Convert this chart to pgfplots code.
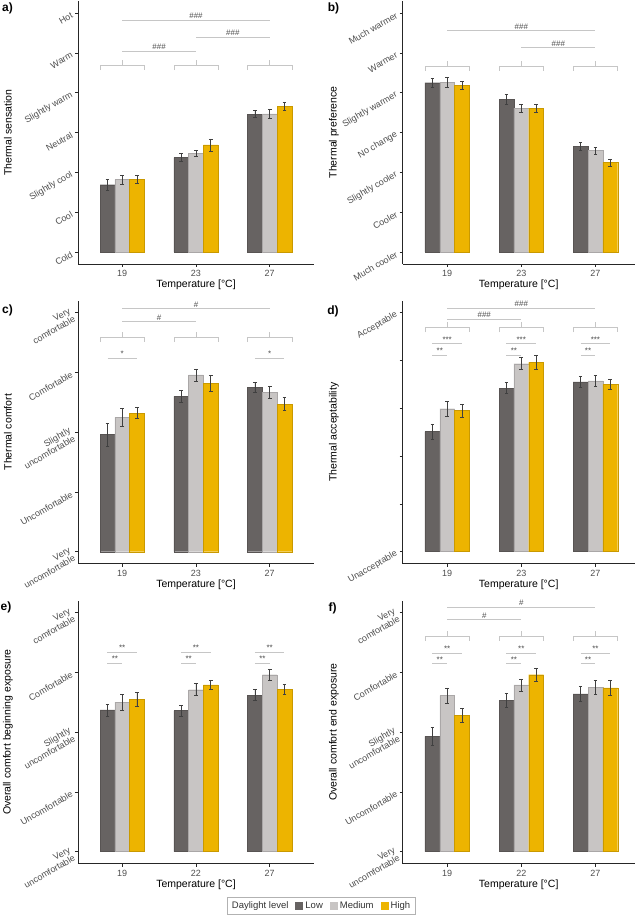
\documentclass[border=0pt]{standalone}
\usepackage{fontspec}
\setmainfont{Liberation Sans}
\usepackage{pgfplots}
\pgfplotsset{compat=1.18}
\definecolor{cLow}{HTML}{676362}
\definecolor{cMed}{HTML}{C8C5C4}
\definecolor{cHigh}{HTML}{EDB400}
\definecolor{tgray}{HTML}{4D4D4D}
\definecolor{agray}{HTML}{C6C6C6}
\tikzset{annot/.style={draw=agray, line width=0.5pt},
  sigtxt/.style={font=\fontsize{8}{8}\selectfont, text=black!70, inner sep=1pt}}
\pgfplotsset{
 panel/.style={
  scale only axis, width=236pt, height=263pt,
  xmin=-0.6, xmax=2.6,
  axis x line*=bottom, axis y line*=left,
  axis line style={black!85, line width=0.6pt},
  tick align=outside, major tick length=3pt,
  tick style={black!85, line width=0.5pt},
  xtick={0,1,2}, xticklabels={19,23,27},
  ybar=0pt, bar width=0.2,
  ticklabel style={font=\fontsize{9}{10}\selectfont, text=tgray},
  yticklabel style={rotate=30, anchor=east, align=right, font=\fontsize{9}{9.5}\selectfont},
  xlabel={Temperature [°C]},
  every axis x label/.style={at={(axis description cs:0.5,0)}, yshift=-21pt, anchor=center, font=\fontsize{10.5}{12}\selectfont},
  every axis y label/.style={at={(axis description cs:-0.297,0.5)}, rotate=90, anchor=center, font=\fontsize{10.5}{12}\selectfont},
  clip=false,
  /pgf/number format/assume math mode=true,
 },
 narrow/.style={width=232pt, xmax=2.53},
 comfy/.style={ymin=-0.2, ymax=4.2, ytick={0,...,4},
   yticklabels={{Very\\uncomfortable},Uncomfortable,{Slightly\\uncomfortable},Comfortable,{Very\\comfortable}}},
 low/.style={fill=cLow, draw=cLow!85!black, line width=0.3pt, bar shift=-0.2},
 med/.style={fill=cMed, draw=cMed!85!black, line width=0.3pt, bar shift=0},
 high/.style={fill=cHigh, draw=cHigh!85!black, line width=0.3pt, bar shift=0.2},
 eb/.style={error bars/.cd, y dir=both, y explicit,
   error bar style={black!75, line width=0.5pt},
   error mark options={black!75, line width=0.5pt, mark size=1.8pt, rotate=90}},
}
\newcommand\brk[4]{%
 \draw[annot] ([yshift=-5pt]axis cs:#1,#4) -- (axis cs:#1,#4) -- (axis cs:#3,#4) -- ([yshift=-5pt]axis cs:#3,#4);
 \draw[annot] (axis cs:#2,#4) -- ([yshift=5pt]axis cs:#2,#4);}
\newcommand\sig[4]{\draw[annot] (axis cs:#1,#3) -- (axis cs:#2,#3) node[midway, above, sigtxt] {#4};}
\begin{document}
\begin{tikzpicture}[x=1pt,y=1pt]
\useasboundingbox (0,0) rectangle (641,918);
% ---------- a ----------
\begin{axis}[panel, at={(78pt,654pt)}, ymin=-0.3, ymax=6.3, ytick={0,...,6},
  yticklabels={Cold,Cool,Slightly cool,Neutral,Slightly warm,Warm,Hot},
  ylabel={Thermal sensation}]
\addplot[low, eb] coordinates {(0,1.69) +- (0,0.13) (1,2.37) +- (0,0.10) (2,3.46) +- (0,0.09)};
\addplot[med, eb] coordinates {(0,1.82) +- (0,0.11) (1,2.48) +- (0,0.08) (2,3.47) +- (0,0.11)};
\addplot[high, eb] coordinates {(0,1.82) +- (0,0.10) (1,2.69) +- (0,0.15) (2,3.66) +- (0,0.10)};
\brk{-0.3}{0}{0.3}{4.69}\brk{0.7}{1}{1.3}{4.69}\brk{1.7}{2}{2.3}{4.69}
\sig{0}{1}{5.05}{\#\#\#}\sig{1}{2}{5.40}{\#\#\#}\sig{0}{2}{5.82}{\#\#\#}
\end{axis}
% ---------- b ----------
\begin{axis}[panel, narrow, at={(402.7pt,654pt)}, ymin=-0.3, ymax=6.3, ytick={0,...,6},
  yticklabels={Much cooler,Cooler,Slightly cooler,No change,Slightly warmer,Warmer,Much warmer},
  ylabel={Thermal preference}]
\addplot[low, eb] coordinates {(0,4.25) +- (0,0.12) (1,3.83) +- (0,0.12) (2,2.65) +- (0,0.10)};
\addplot[med, eb] coordinates {(0,4.26) +- (0,0.12) (1,3.61) +- (0,0.10) (2,2.55) +- (0,0.085)};
\addplot[high, eb] coordinates {(0,4.18) +- (0,0.10) (1,3.61) +- (0,0.10) (2,2.25) +- (0,0.09)};
\brk{-0.3}{0}{0.3}{4.67}\brk{0.7}{1}{1.3}{4.67}\brk{1.7}{2}{2.3}{4.67}
\sig{1}{2}{5.13}{\#\#\#}\sig{0}{2}{5.56}{\#\#\#}
\end{axis}
% ---------- c ----------
\begin{axis}[panel, comfy, at={(78pt,354.3pt)}, ylabel={Thermal comfort}]
\addplot[low, eb] coordinates {(0,1.96) +- (0,0.19) (1,2.60) +- (0,0.105) (2,2.75) +- (0,0.085)};
\addplot[med, eb] coordinates {(0,2.25) +- (0,0.15) (1,2.96) +- (0,0.10) (2,2.67) +- (0,0.105)};
\addplot[high, eb] coordinates {(0,2.32) +- (0,0.095) (1,2.82) +- (0,0.13) (2,2.47) +- (0,0.11)};
\brk{-0.3}{0}{0.3}{3.59}\brk{0.7}{1}{1.3}{3.59}\brk{1.7}{2}{2.3}{3.59}
\sig{0}{1}{3.85}{\#}\sig{0}{2}{4.07}{\#}
\sig{-0.2}{0.2}{3.24}{*}\sig{1.8}{2.2}{3.24}{*}
\end{axis}
% ---------- d ----------
\begin{axis}[panel, narrow, at={(402.7pt,354.4pt)}, ymin=-0.25, ymax=5.25, ytick={0,...,5},
  yticklabels={Unacceptable,,,,,Acceptable}, ylabel={Thermal acceptability}]
\addplot[low, eb] coordinates {(0,2.51) +- (0,0.16) (1,3.42) +- (0,0.115) (2,3.55) +- (0,0.12)};
\addplot[med, eb] coordinates {(0,2.99) +- (0,0.15) (1,3.93) +- (0,0.125) (2,3.57) +- (0,0.12)};
\addplot[high, eb] coordinates {(0,2.95) +- (0,0.14) (1,3.96) +- (0,0.14) (2,3.50) +- (0,0.11)};
\brk{-0.3}{0}{0.3}{4.69}\brk{0.7}{1}{1.3}{4.69}\brk{1.7}{2}{2.3}{4.69}
\sig{0}{1}{4.87}{\#\#\#}\sig{0}{2}{5.10}{\#\#\#}
\sig{-0.2}{0.2}{4.35}{***}\sig{0.8}{1.2}{4.35}{***}\sig{1.8}{2.2}{4.35}{***}
\sig{-0.2}{0}{4.11}{**}\sig{0.8}{1}{4.11}{**}\sig{1.8}{2}{4.11}{**}
\end{axis}
% ---------- e ----------
\begin{axis}[panel, comfy, at={(78pt,54.4pt)}, xticklabels={19,22,27},
  ylabel={Overall comfort beginning exposure},
  legend style={at={(1.03,-0.161)}, anchor=center, draw=black!30, line width=0.5pt,
    font=\fontsize{9.5}{11}\selectfont, text=black!80, inner xsep=3pt, inner ysep=2pt,
    /tikz/every even column/.append style={column sep=5pt}},
  legend columns=-1,
  legend image code/.code={\fill[#1, draw=none] (0pt,-4pt) rectangle (8pt,4pt);}]
\addplot[low, forget plot, eb] coordinates {(0,2.37) +- (0,0.10) (1,2.36) +- (0,0.09) (2,2.62) +- (0,0.09)};
\addplot[med, forget plot, eb] coordinates {(0,2.50) +- (0,0.13) (1,2.71) +- (0,0.10) (2,2.96) +- (0,0.09)};
\addplot[high, forget plot, eb] coordinates {(0,2.55) +- (0,0.12) (1,2.79) +- (0,0.075) (2,2.72) +- (0,0.08)};
\sig{-0.2}{0.2}{3.34}{**}\sig{0.8}{1.2}{3.34}{**}\sig{1.8}{2.2}{3.34}{**}
\sig{-0.2}{0}{3.16}{**}\sig{0.8}{1}{3.16}{**}\sig{1.8}{2}{3.16}{**}
\addlegendimage{empty legend}\addlegendentry{Daylight level}
\addlegendimage{fill=cLow, draw=none}\addlegendentry{Low}
\addlegendimage{fill=cMed, draw=none}\addlegendentry{Medium}
\addlegendimage{fill=cHigh, draw=none}\addlegendentry{High}
\end{axis}
% ---------- f ----------
\begin{axis}[panel, narrow, comfy, at={(402.7pt,54.4pt)}, xticklabels={19,22,27},
  ylabel={Overall comfort end exposure}]
\addplot[low, eb] coordinates {(0,1.93) +- (0,0.155) (1,2.53) +- (0,0.12) (2,2.64) +- (0,0.12)};
\addplot[med, eb] coordinates {(0,2.61) +- (0,0.13) (1,2.79) +- (0,0.10) (2,2.75) +- (0,0.12)};
\addplot[high, eb] coordinates {(0,2.28) +- (0,0.12) (1,2.96) +- (0,0.11) (2,2.74) +- (0,0.13)};
\brk{-0.3}{0}{0.3}{3.61}\brk{0.7}{1}{1.3}{3.61}\brk{1.7}{2}{2.3}{3.61}
\sig{0}{1}{3.88}{\#}\sig{0}{2}{4.09}{\#}
\sig{-0.2}{0.2}{3.32}{**}\sig{0.8}{1.2}{3.32}{**}\sig{1.8}{2.2}{3.32}{**}
\sig{-0.2}{0}{3.15}{**}\sig{0.8}{1}{3.15}{**}\sig{1.8}{2}{3.15}{**}
\end{axis}
% panel letters
\begin{scope}[every node/.style={font=\bfseries\fontsize{12}{12}\selectfont, inner sep=0pt}]
\node at (7.5,910) {a)};
\node at (333.5,910) {b)};
\node at (7.5,608) {c)};
\node at (333,607) {d)};
\node at (6,310.5) {e)};
\node at (332.5,310) {f)};
\end{scope}
\end{tikzpicture}
\end{document}
